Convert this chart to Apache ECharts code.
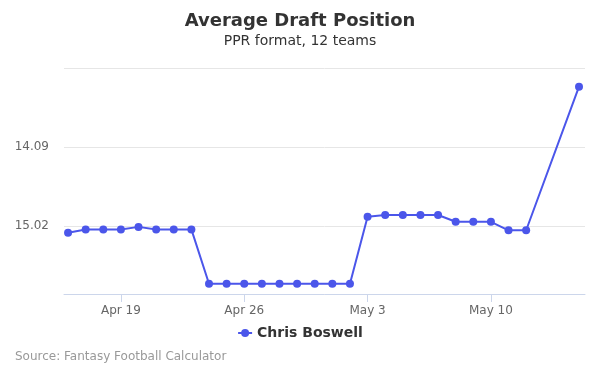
<!DOCTYPE html>
<html>
<head>
<meta charset="utf-8">
<script src="https://cdn.jsdelivr.net/npm/echarts@6/dist/echarts.min.js"></script>
<style>html,body{margin:0;padding:0;background:#fff}#c{width:600px;height:375px}</style>
</head>
<body>
<div id="c"></div>
<script>
const dates = ['2024-04-16','2024-04-17','2024-04-18','2024-04-19','2024-04-20','2024-04-21','2024-04-22','2024-04-23',
  '2024-04-24','2024-04-25','2024-04-26','2024-04-27','2024-04-28','2024-04-29','2024-04-30','2024-05-01','2024-05-02',
  '2024-05-03','2024-05-04','2024-05-05','2024-05-06','2024-05-07','2024-05-08','2024-05-09','2024-05-10',
  '2024-05-11','2024-05-12','2024-05-15'];
const adp = [15.10,15.06,15.06,15.06,15.03,15.06,15.06,15.06,
  15.70,15.70,15.70,15.70,15.70,15.70,15.70,15.70,15.70,
  14.91,14.89,14.89,14.89,14.89,14.97,14.97,14.97,
  15.07,15.07,13.38];
const tickDates = ['2024-04-19','2024-04-26','2024-05-03','2024-05-10'];
const yTickLabels = [14.09, 15.02];
const seriesName = 'Chris Boswell';

const DAY = 86400000;
const t0 = Date.parse(dates[0] + 'T00:00:00Z');
const toDay = s => (Date.parse(s + 'T00:00:00Z') - t0) / DAY;
const months = ['Jan','Feb','Mar','Apr','May','Jun','Jul','Aug','Sep','Oct','Nov','Dec'];
const fmtDay = d => { const dt = new Date(t0 + Math.round(d) * DAY); return months[dt.getUTCMonth()] + ' ' + dt.getUTCDate(); };
const tickDays = tickDates.map(toDay);
const data = dates.map((d, i) => [toDay(d), adp[i]]);

const chart = echarts.init(document.getElementById('c'));
chart.setOption({
  animation: false,
  textStyle: { fontFamily: 'DejaVu Sans' },
  title: [
    { text: 'Average Draft Position', left: 'center', top: 7,
      textStyle: { fontSize: 18, fontWeight: 'bold', color: '#333', fontFamily: 'DejaVu Sans' } },
    { text: 'PPR format, 12 teams', left: 'center', top: 29,
      textStyle: { fontSize: 14, fontWeight: 'normal', color: '#333', fontFamily: 'DejaVu Sans' } },
    { text: 'Source: Fantasy Football Calculator', left: 10, top: 346,
      textStyle: { fontSize: 12, fontWeight: 'normal', color: '#999', fontFamily: 'DejaVu Sans' } }
  ],
  legend: {
    data: [seriesName], left: 'center', top: 321, itemWidth: 14, itemHeight: 10, itemGap: 6,
    textStyle: { fontSize: 14, fontWeight: 'bold', color: '#333', fontFamily: 'DejaVu Sans' }
  },
  grid: { left: 64, right: 15, top: 68, bottom: 81, containLabel: false },
  xAxis: {
    type: 'value', min: -0.23, max: 29.34,
    axisLine: { show: true, lineStyle: { color: '#ccd6eb' } },
    axisTick: { show: true, customValues: tickDays, length: 8, lineStyle: { color: '#ccd6eb' } },
    axisLabel: { customValues: tickDays, formatter: v => fmtDay(v), color: '#666', fontSize: 12, margin: 11 },
    splitLine: { show: false }
  },
  yAxis: {
    type: 'value', inverse: true, min: 13.16, max: 15.82, interval: 0.93,
    axisLine: { show: false }, axisTick: { show: false },
    axisLabel: {
      color: '#666', fontSize: 12, margin: 15, showMinLabel: false, showMaxLabel: false,
      formatter: v => { const s = v.toFixed(2); return yTickLabels.some(t => t.toFixed(2) === s) ? s : ''; }
    },
    splitLine: { show: true, lineStyle: { color: '#e6e6e6' } }
  },
  series: [{
    name: seriesName, type: 'line', data: data,
    symbol: 'circle', symbolSize: 8,
    itemStyle: { color: '#4b56ea' },
    lineStyle: { color: '#4b56ea', width: 2 }
  }]
});
</script>
</body>
</html>
